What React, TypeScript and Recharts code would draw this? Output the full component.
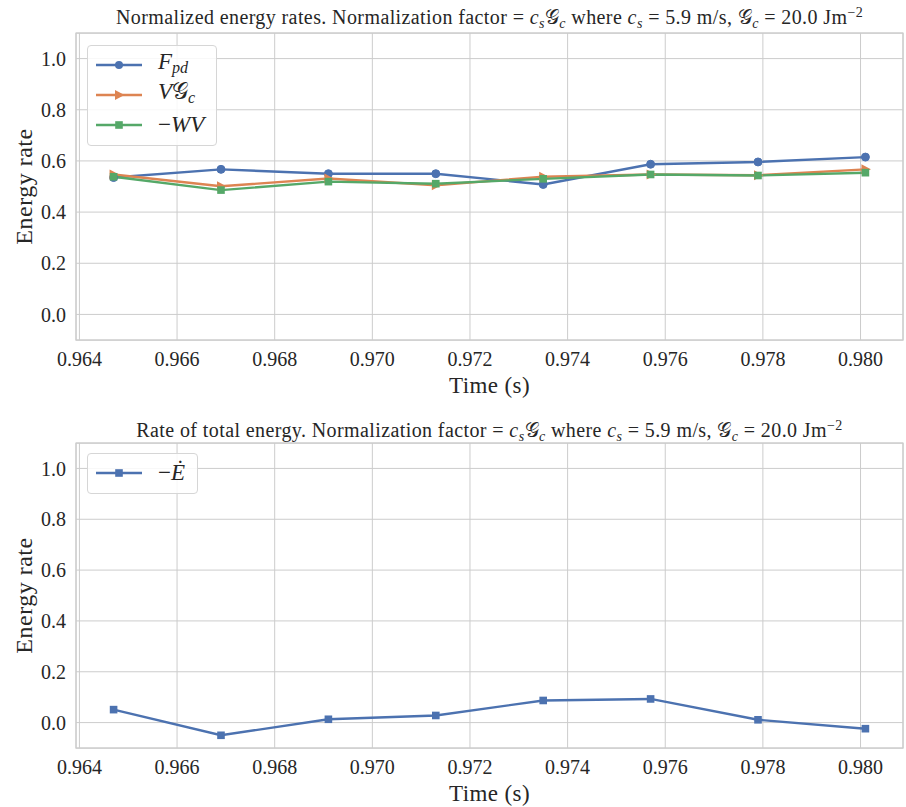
import React from 'react';
import { LineChart, Line, XAxis, YAxis, CartesianGrid, ReferenceArea, Legend } from 'recharts';

const times = [0.9647, 0.9669, 0.9691, 0.9713, 0.9735, 0.9757, 0.9779, 0.9801];
const fpd = [0.535, 0.567, 0.55, 0.55, 0.508, 0.587, 0.596, 0.615];
const vgc = [0.547, 0.501, 0.531, 0.505, 0.538, 0.547, 0.544, 0.567];
const wv = [0.538, 0.486, 0.519, 0.511, 0.53, 0.547, 0.543, 0.554];
const edot = [0.051, -0.05, 0.013, 0.028, 0.087, 0.093, 0.011, -0.024];

const xTicks = [0.964, 0.966, 0.968, 0.97, 0.972, 0.974, 0.976, 0.978, 0.98];
const yTicks = [0, 0.2, 0.4, 0.6, 0.8, 1.0];
const xDomain: [number, number] = [0.96393, 0.98087];
const yDomain: [number, number] = [-0.1, 1.1];

const topData = times.map((t, i) => ({ t, fpd: fpd[i], vgc: vgc[i], wv: wv[i] }));
const bottomData = times.map((t, i) => ({ t, edot: edot[i] }));

const BLUE = '#4C72B0';
const ORANGE = '#DD8452';
const GREEN = '#55A868';
const FONT = "'Liberation Serif', 'DejaVu Serif', serif";
const TEXT = '#262626';
const G = '\u{1D4A2}';
const LW = 2.4;

const Circle = (color: string) => (p: any) => (
  <circle key={`c${p.index}`} cx={p.cx} cy={p.cy} r={4} fill={color} stroke={color} />
);
const Square = (color: string) => (p: any) => (
  <rect key={`s${p.index}`} x={p.cx - 3.8} y={p.cy - 3.8} width={7.6} height={7.6} fill={color} />
);
const Tri = (color: string) => (p: any) => (
  <polygon key={`t${p.index}`} points={`${p.cx + 5.5},${p.cy} ${p.cx - 4},${p.cy - 5} ${p.cx - 4},${p.cy + 5}`} fill={color} />
);

const sub = { fontSize: '0.7em', verticalAlign: '-0.25em' } as React.CSSProperties;
const sup = { fontSize: '0.7em', verticalAlign: '0.5em' } as React.CSSProperties;

const labelJsx: Record<string, React.ReactNode> = {
  fpd: (<span><i>F</i><i style={sub}>pd</i></span>),
  vgc: (<span><i>V</i>{G}<i style={sub}>c</i></span>),
  wv: (<span>−<i>WV</i></span>),
  edot: (<span>−<i>Ė</i></span>),
};

const markerSvg = (key: string, color: string) => {
  if (key === 'fpd') return <circle cx={23} cy={10} r={4} fill={color} />;
  if (key === 'vgc') return <polygon points="28.5,10 19,5 19,15" fill={color} />;
  return <rect x={19.2} y={6.2} width={7.6} height={7.6} fill={color} />;
};

const makeLegend = (keys: string[], colors: string[]) => () => (
  <div style={{
    border: '1px solid #d6d6d6', borderRadius: 4, background: 'rgba(255,255,255,0.85)',
    padding: '4px 12px 5px 8px', fontFamily: FONT, fontSize: 23, color: TEXT,
  }}>
    {keys.map((k, i) => (
      <div key={k} style={{ display: 'flex', alignItems: 'center', height: 30 }}>
        <svg width={46} height={20} style={{ display: 'block' }}>
          <line x1={0} y1={10} x2={46} y2={10} stroke={colors[i]} strokeWidth={LW} />
          {markerSvg(k, colors[i])}
        </svg>
        <span style={{ marginLeft: 16, lineHeight: '30px' }}>{labelJsx[k]}</span>
      </div>
    ))}
  </div>
);

const xLabel = (props: any) => {
  const vb = props.viewBox;
  return (
    <text x={vb.x + vb.width / 2} y={vb.y + 45} textAnchor="middle" dominantBaseline="central"
      fontFamily={FONT} fontSize={23} letterSpacing={0.4} fill={TEXT}>Time (s)</text>
  );
};
const yLabel = (props: any) => {
  const vb = props.viewBox;
  const cx = 24;
  const cy = vb.y + vb.height / 2;
  return (
    <text x={cx} y={cy} transform={`rotate(-90, ${cx}, ${cy})`} textAnchor="middle" dominantBaseline="central"
      fontFamily={FONT} fontSize={24} letterSpacing={0.5} fill={TEXT}>Energy rate</text>
  );
};

const tickStyle = { fontFamily: FONT, fontSize: 20, fill: TEXT };

const Title = ({ top, lead }: { top: number; lead: string }) => (
  <div style={{
    position: 'absolute', left: 76, width: 827, top, textAlign: 'center', fontFamily: FONT,
    fontSize: 20, letterSpacing: 0.4, color: TEXT, lineHeight: '22px', whiteSpace: 'nowrap',
  }}>
    {lead} Normalization factor = <i>c</i><i style={sub}>s</i>{G}<i style={sub}>c</i> where <i>c</i><i style={sub}>s</i> = 5.9 m/s, {G}<i style={sub}>c</i> = 20.0 Jm<span style={sup}>−2</span>
  </div>
);

export default function App() {
  return (
    <div style={{ position: 'absolute', left: 0, top: 0, width: 906, height: 807, background: '#fff' }}>
      <Title top={2} lead="Normalized energy rates." />
      <div style={{ position: 'absolute', left: 0, top: 0 }}>
        <LineChart width={906} height={403} data={topData} margin={{ top: 33, right: 3, left: 0, bottom: 0 }}>
          <CartesianGrid stroke="#cccccc" strokeWidth={1} />
          <XAxis type="number" dataKey="t" domain={xDomain} ticks={xTicks} allowDataOverflow interval={0}
            tickFormatter={(v: number) => v.toFixed(3)} tickLine={false} axisLine={false} height={63}
            tick={tickStyle} tickMargin={6} label={xLabel} />
          <YAxis type="number" domain={yDomain} ticks={yTicks} allowDataOverflow interval={0}
            tickFormatter={(v: number) => v.toFixed(1)} tickLine={false} axisLine={false} width={76}
            tick={tickStyle} tickMargin={4} label={yLabel} />
          <ReferenceArea x1={xDomain[0]} x2={xDomain[1]} y1={yDomain[0]} y2={yDomain[1]} fill="none" stroke="#cccccc" strokeWidth={1.25} />
          <Line dataKey="fpd" name="F_pd" stroke={BLUE} strokeWidth={LW} dot={Circle(BLUE)} isAnimationActive={false} />
          <Line dataKey="vgc" name="VG_c" stroke={ORANGE} strokeWidth={LW} dot={Tri(ORANGE)} isAnimationActive={false} />
          <Line dataKey="wv" name="-WV" stroke={GREEN} strokeWidth={LW} dot={Square(GREEN)} isAnimationActive={false} />
          <Legend layout="vertical" align="center" verticalAlign="middle"
            wrapperStyle={{ position: 'absolute', left: 87, top: 45, width: 'auto' }}
            content={makeLegend(['fpd', 'vgc', 'wv'], [BLUE, ORANGE, GREEN])} />
        </LineChart>
      </div>
      <Title top={415} lead="Rate of total energy." />
      <div style={{ position: 'absolute', left: 0, top: 403 }}>
        <LineChart width={906} height={404} data={bottomData} margin={{ top: 40, right: 3, left: 0, bottom: 0 }}>
          <CartesianGrid stroke="#cccccc" strokeWidth={1} />
          <XAxis type="number" dataKey="t" domain={xDomain} ticks={xTicks} allowDataOverflow interval={0}
            tickFormatter={(v: number) => v.toFixed(3)} tickLine={false} axisLine={false} height={59}
            tick={tickStyle} tickMargin={6} label={xLabel} />
          <YAxis type="number" domain={yDomain} ticks={yTicks} allowDataOverflow interval={0}
            tickFormatter={(v: number) => v.toFixed(1)} tickLine={false} axisLine={false} width={76}
            tick={tickStyle} tickMargin={4} label={yLabel} />
          <ReferenceArea x1={xDomain[0]} x2={xDomain[1]} y1={yDomain[0]} y2={yDomain[1]} fill="none" stroke="#cccccc" strokeWidth={1.25} />
          <Line dataKey="edot" name="-Edot" stroke={BLUE} strokeWidth={LW} dot={Square(BLUE)} isAnimationActive={false} />
          <Legend layout="vertical" align="center" verticalAlign="middle"
            wrapperStyle={{ position: 'absolute', left: 87, top: 50, width: 'auto' }}
            content={makeLegend(['edot'], [BLUE])} />
        </LineChart>
      </div>
    </div>
  );
}
